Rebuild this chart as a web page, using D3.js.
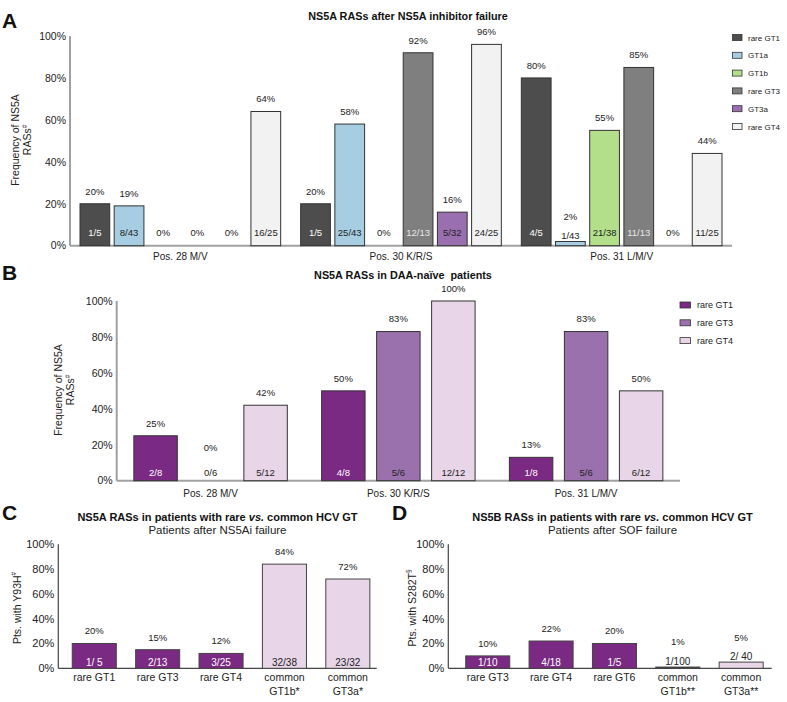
<!DOCTYPE html>
<html><head><meta charset="utf-8">
<script src="https://cdn.jsdelivr.net/npm/d3@7"></script>
<style>body{margin:0;background:#fff}svg{font-family:"Liberation Sans",Arial,sans-serif}</style>
</head><body><svg id="c" width="787" height="702"></svg>
<script>
// ---- Panel A data ----
const groupsA = ["Pos. 28 M/V", "Pos. 30 K/R/S", "Pos. 31 L/M/V"];
const seriesA = ["rare GT1", "GT1a", "GT1b", "rare GT3", "GT3a", "rare GT4"];
const colorsA = ["#4d4d4d", "#a6cde2", "#b3df8b", "#7f7f7f", "#9a6faf", "#f2f2f2"];
const valuesA = [[20, 20, 80], [19, 58, 2], [0, 0, 55], [0, 92, 85], [0, 16, 0], [64, 96, 44]];
const fracsA = [["1/5", "1/5", "4/5"], ["8/43", "25/43", "1/43"], [null, null, "21/38"], [null, "12/13", "11/13"], [null, "5/32", null], ["16/25", "24/25", "11/25"]];

// ---- Panel B data ----
const groupsB = ["Pos. 28 M/V", "Pos. 30 K/R/S", "Pos. 31 L/M/V"];
const seriesB = ["rare GT1", "rare GT3", "rare GT4"];
const colorsB = ["#7b2a84", "#9b71ad", "#e8d6e8"];
const valuesB = [[25, 50, 13], [0, 83, 83], [42, 100, 50]];
const fracsB = [["2/8", "4/8", "1/8"], ["0/6", "5/6", "5/6"], ["5/12", "12/12", "6/12"]];

// ---- Panel C data ----
const catsC = [["rare GT1"], ["rare GT3"], ["rare GT4"], ["common", "GT1b*"], ["common", "GT3a*"]];
const valuesC = [20, 15, 12, 84, 72];
const fracsC = ["1/ 5", "2/13", "3/25", "32/38", "23/32"];
const colorsC = ["#7b2a84", "#7b2a84", "#7b2a84", "#e8d6e8", "#e8d6e8"];

// ---- Panel D data ----
const catsD = [["rare GT3"], ["rare GT4"], ["rare GT6"], ["common", "GT1b**"], ["common", "GT3a**"]];
const valuesD = [10, 22, 20, 1, 5];
const fracsD = ["1/10", "4/18", "1/5", "1/100", "2/ 40"];
const colorsD = ["#7b2a84", "#7b2a84", "#7b2a84", "#333333", "#e8d6e8"];

const yTicks = [0, 20, 40, 60, 80, 100];
const darkFills = ["#4d4d4d", "#7b2a84", "#7f7f7f"];

const svg = d3.select("#c");

function txt(g, x, y, s, size, opts = {}) {
  return g.append("text").attr("x", x).attr("y", y).text(s)
    .attr("font-size", size).attr("fill", opts.fill || "#222")
    .attr("text-anchor", opts.anchor || "middle")
    .attr("font-weight", opts.bold ? "bold" : null);
}

function axes(y, x0, x1, axisColor, axisWidth, tickSize) {
  const [yb, yt] = y.range();
  yTicks.forEach(t => {
    txt(svg, x0 - 4, y(t) + tickSize * 0.36, t + "%", tickSize, { anchor: "end" });
  });
  svg.append("line").attr("x1", x0).attr("x2", x0).attr("y1", yt).attr("y2", yb)
    .attr("stroke", axisColor).attr("stroke-width", axisWidth);
  svg.append("line").attr("x1", x0).attr("x2", x1).attr("y1", yb).attr("y2", yb)
    .attr("stroke", axisColor).attr("stroke-width", axisWidth);
}

function ylabel(lines, cx, cy, size, sup) {
  lines.forEach((l, i) => {
    const t = svg.append("text").attr("transform", `translate(${cx + i * 12},${cy}) rotate(-90)`)
      .attr("text-anchor", "middle").attr("font-size", size).attr("fill", "#222");
    t.append("tspan").text(l);
    if (i === lines.length - 1 && sup) t.append("tspan").text(sup).attr("font-size", size * 0.6).attr("dy", -size * 0.4);
  });
}

// draw a bar with labels
function bar(x, w, y, v, frac, fill, stroke, opt) {
  const yb = y(0), yt = y(v), h = yb - yt;
  if (v > 0) svg.append("rect").attr("x", x).attr("y", yt).attr("width", w).attr("height", h)
    .attr("fill", fill).attr("stroke", stroke).attr("stroke-width", 1);
  const cx = x + w / 2;
  const fs = opt.fracSize, vs = opt.valSize;
  let fracC, valC;
  if (v === 0) {
    if (frac) { fracC = yb - opt.fracOff; valC = fracC - 25; }
    else { valC = yb - opt.fracOff; }
  } else if (h < 10) {
    fracC = yt - 6; valC = fracC - 19;
  } else {
    fracC = yb - opt.fracOff; valC = yt - 12.5;
  }
  txt(svg, cx, valC + vs * 0.36, v + "%", vs);
  if (frac) {
    const light = v > 0 && h >= 10 && darkFills.includes(fill);
    txt(svg, cx, fracC + fs * 0.36, frac, fs, { fill: light ? (fill === "#7f7f7f" ? "#e8e8e8" : "#fff") : "#222" });
  }
}

// ================= Panel A =================
{
  const x0 = 70, x1 = 732;
  const y = d3.scaleLinear().domain([0, 100]).range([245.7, 36]);
  const xo = d3.scaleBand().domain(groupsA).range([x0, x1]).paddingInner(0.072).paddingOuter(0.036);
  const xi = d3.scaleBand().domain(seriesA).range([0, xo.bandwidth()]).paddingInner(0.13).paddingOuter(0.06);
  txt(svg, 2, 28, "A", 21, { bold: true, anchor: "start", fill: "#111" });
  txt(svg, 408, 20, "NS5A RASs after NS5A inhibitor failure", 10.8, { bold: true, fill: "#111" });
  axes(y, x0, x1, "#a0a0a0", 2, 10.5);
  seriesA.forEach((s, si) => groupsA.forEach((g, gi) => {
    bar(xo(g) + xi(s), xi.bandwidth(), y, valuesA[si][gi], fracsA[si][gi], colorsA[si], "#333",
      { fracOff: 12.7, fracSize: 9.5, valSize: 9.5 });
  }));
  groupsA.forEach(g => txt(svg, xo(g) + xo.bandwidth() / 2, 259.5, g, 10));
  ylabel(["Frequency of NS5A", "RASs"], 19, 140, 10.5, "#");
  seriesA.forEach((s, i) => {
    const cy = 37.5 + i * 17.8;
    svg.append("rect").attr("x", 732.5).attr("y", cy - 3).attr("width", 9.5).attr("height", 6)
      .attr("fill", colorsA[i]).attr("stroke", "#333").attr("stroke-width", 0.8);
    txt(svg, 748, cy + 3, s, 8, { anchor: "start" });
  });
}

// ================= Panel B =================
{
  const x0 = 116.7, x1 = 680;
  const y = d3.scaleLinear().domain([0, 100]).range([480.7, 301]);
  const xo = d3.scaleBand().domain(groupsB).range([x0, x1]).paddingInner(0.12).paddingOuter(0.06);
  const xi = d3.scaleBand().domain(seriesB).range([0, xo.bandwidth()]).paddingInner(0.21).paddingOuter(0.107);
  txt(svg, 2, 280, "B", 21, { bold: true, anchor: "start", fill: "#111" });
  txt(svg, 403, 279, "NS5A RASs in DAA-naïve  patients", 10.8, { bold: true, fill: "#111" }).style("white-space", "pre");
  axes(y, x0, x1, "#a0a0a0", 2, 10.5);
  seriesB.forEach((s, si) => groupsB.forEach((g, gi) => {
    bar(xo(g) + xi(s), xi.bandwidth(), y, valuesB[si][gi], fracsB[si][gi], colorsB[si], "#333",
      { fracOff: 8, fracSize: 9.5, valSize: 9.5 });
  }));
  groupsB.forEach(g => txt(svg, xo(g) + xo.bandwidth() / 2, 497, g, 10));
  ylabel(["Frequency of NS5A", "RASs"], 62, 390, 10.5, "#");
  seriesB.forEach((s, i) => {
    const cy = 305 + i * 17.8;
    svg.append("rect").attr("x", 680).attr("y", cy - 3).attr("width", 10.5).attr("height", 6)
      .attr("fill", colorsB[i]).attr("stroke", "#333").attr("stroke-width", 0.8);
    txt(svg, 697, cy + 3.3, s, 9, { anchor: "start" });
  });
}

// ================= Panels C & D =================
function smallPanel(letter, lx, x0, x1, rEnd, pOuter, titleCx, title1, subtitle, cats, vals, fracs, cols, ylab, sup, ylx) {
  const y = d3.scaleLinear().domain([0, 100]).range([668.3, 544.3]);
  const x = d3.scaleBand().domain(d3.range(cats.length)).range([x0, rEnd]).paddingInner(0.305).paddingOuter(pOuter);
  txt(svg, lx, 520, letter, 21, { bold: true, anchor: "start", fill: "#111" });
  const t = txt(svg, titleCx, 520.5, "", 11, { bold: true, fill: "#111" });
  t.append("tspan").text(title1);
  t.append("tspan").text("vs.").attr("font-style", "italic");
  t.append("tspan").text(" common HCV GT");
  txt(svg, titleCx, 533.5, subtitle, 11.5);
  axes(y, x0, x1, "#444", 1.2, 11);
  cats.forEach((c, i) => {
    bar(x(i), x.bandwidth(), y, vals[i], fracs[i], cols[i], "#444",
      { fracOff: 6, fracSize: 10, valSize: 9.5 });
    c.forEach((l, j) => txt(svg, x(i) + x.bandwidth() / 2, 680.5 + j * 14, l, 10.5));
  });
  ylabel([ylab], ylx, 608, 10.5, sup);
}
smallPanel("C", 2, 58.3, 376.7, 383.8, 0.22, 217.5, "NS5A RASs in patients with rare ", "Patients after NS5Ai failure",
  catsC, valuesC, fracsC, colorsC, "Pts. with Y93H", "#", 20.5);
smallPanel("D", 392, 448.3, 771.7, 780.6, 0.275, 612.5, "NS5B RASs in patients with rare ", "Patients after SOF failure",
  catsD, valuesD, fracsD, colorsD, "Pts. with S282T", "§", 415.5);
</script></body></html>
